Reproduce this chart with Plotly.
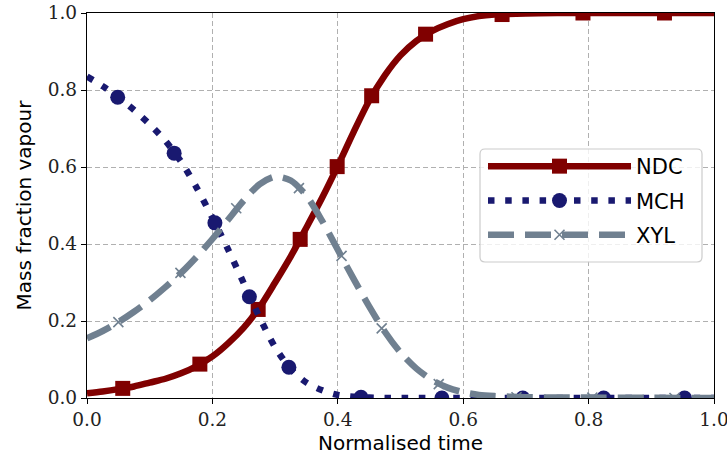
import plotly.graph_objects as go

# ---- data ----
x_curve = [0, 0.025, 0.05, 0.075, 0.1, 0.125, 0.15, 0.175, 0.2, 0.225, 0.25, 0.275,
           0.3, 0.325, 0.35, 0.375, 0.4, 0.425, 0.45, 0.475, 0.5, 0.525, 0.55, 0.575,
           0.6, 0.625, 0.65, 0.7, 0.75, 0.8, 0.9, 1.0]

ndc_curve = [0.012, 0.017, 0.023, 0.030, 0.040, 0.050, 0.064, 0.083, 0.108, 0.142, 0.183, 0.235,
             0.300, 0.368, 0.443, 0.520, 0.603, 0.690, 0.772, 0.838, 0.890, 0.927, 0.953, 0.971,
             0.984, 0.992, 0.996, 0.999, 1.0, 1.0, 1.0, 1.0]

mch_curve = [0.835, 0.810, 0.781, 0.748, 0.711, 0.668, 0.614, 0.546, 0.468, 0.386, 0.298, 0.210,
             0.132, 0.075, 0.040, 0.020, 0.008, 0.003, 0.001, 0.0, 0.0, 0.0, 0.0, 0.0,
             0.0, 0.0, 0.0, 0.0, 0.0, 0.0, 0.0, 0.0]

xyl_curve = [0.155, 0.174, 0.197, 0.224, 0.254, 0.288, 0.325, 0.367, 0.413, 0.463, 0.513, 0.555,
             0.575, 0.565, 0.525, 0.460, 0.385, 0.310, 0.238, 0.172, 0.118, 0.077, 0.047, 0.027,
             0.015, 0.008, 0.005, 0.002, 0.0015, 0.001, 0.0005, 0.0]

ndc_mx = [0.057, 0.180, 0.273, 0.340, 0.399, 0.454, 0.540, 0.662, 0.791, 0.921]
ndc_my = [0.025, 0.088, 0.230, 0.412, 0.601, 0.785, 0.945, 0.996, 1.0, 1.0]

mch_mx = [0.049, 0.139, 0.204, 0.259, 0.322, 0.437, 0.566, 0.695, 0.824, 0.953]
mch_my = [0.781, 0.636, 0.455, 0.263, 0.080, 0.002, 0.0, 0.0, 0.0, 0.0]

xyl_mx = [0.050, 0.149, 0.238, 0.338, 0.406, 0.470, 0.561, 0.685, 0.806, 0.937]
xyl_my = [0.197, 0.325, 0.493, 0.545, 0.369, 0.181, 0.036, 0.002, 0.001, 0.0]

names = ["NDC", "MCH", "XYL"]
x_ticks = [0, 0.2, 0.4, 0.6, 0.8, 1.0]
y_ticks = [0, 0.2, 0.4, 0.6, 0.8, 1.0]

# ---- styles ----
C_NDC = "#800000"
C_MCH = "#191970"
C_XYL = "#708090"
LW = 6.5
DOT = "6.5px,10.7px"
DASH = "26px,11px"

fig = go.Figure()

series = [
    (names[0], ndc_curve, ndc_mx, ndc_my, C_NDC, "solid", dict(symbol="square", size=15, color=C_NDC)),
    (names[1], mch_curve, mch_mx, mch_my, C_MCH, DOT, dict(symbol="circle", size=15, color=C_MCH)),
    (names[2], xyl_curve, xyl_mx, xyl_my, C_XYL, DASH,
     dict(symbol="x-thin", size=10, color=C_XYL, line=dict(width=1.6, color=C_XYL))),
]

for name, yc, mx, my, col, dash, mk in series:
    fig.add_trace(go.Scatter(x=x_curve, y=yc, mode="lines", showlegend=False,
                             line=dict(color=col, width=LW, dash=dash, shape="spline", smoothing=0.8),
                             hoverinfo="skip"))
    fig.add_trace(go.Scatter(x=mx, y=my, mode="markers", showlegend=False, marker=mk))

for i, (name, yc, mx, my, col, dash, mk) in enumerate(series):
    fig.add_trace(go.Scatter(x=[None], y=[None], mode="lines+markers", name=name,
                             legendgroup=name,
                             line=dict(color=col, width=LW, dash=dash), marker=mk))

# legend frame (rounded)
hw, hh, r = 111, 56.5, 5
path = (f"M{-hw + r},{-hh} L{hw - r},{-hh} Q{hw},{-hh} {hw},{-hh + r} "
        f"L{hw},{hh - r} Q{hw},{hh} {hw - r},{hh} L{-hw + r},{hh} Q{-hw},{hh} {-hw},{hh - r} "
        f"L{-hw},{-hh + r} Q{-hw},{-hh} {-hw + r},{-hh} Z")
fig.add_shape(type="path", xref="paper", yref="paper", xsizemode="pixel", ysizemode="pixel",
              xanchor=(591 - 87) / 627, yanchor=(398 - 205.5) / 385, path=path,
              fillcolor="rgba(255,255,255,0.8)", line=dict(color="#cccccc", width=1.2),
              layer="above")

SERIF = "DejaVu Serif"
axis_common = dict(
    range=[0, 1], ticks="outside", ticklen=5, tickwidth=1.2, tickcolor="black",
    showline=True, linecolor="black", linewidth=1.3, mirror=True,
    showgrid=True, gridcolor="#b0b0b0", gridwidth=1.2, griddash="5px,3px",
    zeroline=False, tickformat=".1f", automargin=False, ticklabeloverflow="allow",
    tickfont=dict(family=SERIF, size=18.5, color="#222222"),
)

fig.update_layout(
    width=727, height=462, autosize=False,
    margin=dict(l=87, r=13, t=13, b=64),
    paper_bgcolor="white", plot_bgcolor="white",
    xaxis=dict(axis_common, tickvals=x_ticks,
               title=dict(text="Normalised time", standoff=6,
                          font=dict(family="DejaVu Sans", size=20, color="black"))),
    yaxis=dict(axis_common, tickvals=y_ticks,
               title=dict(text="Mass fraction vapour", standoff=10,
                          font=dict(family="DejaVu Sans", size=20, color="black"))),
    legend=dict(x=(483 - 87) / 627, y=(398 - 146) / 385, xanchor="left", yanchor="top",
                bgcolor="rgba(0,0,0,0)", borderwidth=0, itemwidth=143,
                traceorder="grouped", tracegroupgap=4,
                font=dict(family="DejaVu Sans", size=21, color="black")),
)

fig.write_html("out.html", config={"displayModeBar": False},
               post_script="document.body.style.margin='0';document.body.style.padding='0';")
